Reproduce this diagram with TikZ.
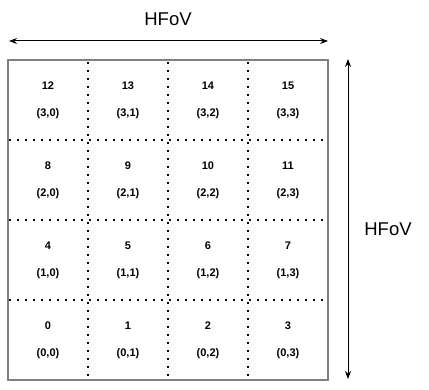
\documentclass[tikz,border=0pt]{standalone}
\usepackage{fontspec}
\setmainfont{Liberation Sans}
\usetikzlibrary{arrows.meta}
\definecolor{framegray}{RGB}{128,128,128}

\begin{document}
\begin{tikzpicture}[x=1pt,y=-1pt,
    idtext/.style={font=\fontsize{11}{12}\selectfont\bfseries, inner sep=0pt},
    fovtext/.style={font=\fontsize{18.5}{20}\selectfont, inner sep=0pt},
    gridline/.style={line width=1.8pt, dash pattern=on 1.8pt off 6.2pt},
    fovarrow/.style={{Stealth[length=8pt,width=6pt]}-{Stealth[length=8pt,width=6pt]}, line width=1pt}]
    \useasboundingbox (0,0) rectangle (429,390);

    % outer frame
    \node[draw=framegray, line width=1.6pt, minimum width=320pt, minimum height=320pt, inner sep=0pt] (fov) at (168,220) {};

    % dotted grid
    \foreach \gx in {88,168,248}
        \draw[gridline] (\gx,62) -- (\gx,379);
    \foreach \gy in {140,220,300}
        \draw[gridline] (9,\gy) -- (327,\gy);

    % cell labels
    \foreach \row in {0,...,3}
        \foreach \col in {0,...,3} {
            \pgfmathtruncatemacro{\idx}{4*\row+\col}
            \pgfmathsetmacro{\cx}{48+80*\col}
            \pgfmathsetmacro{\cy}{60+80*(3-\row)}
            \node[idtext] (id\idx) at (\cx,\cy+26) {\idx};
            \node[idtext] (rc\idx) at (\cx,\cy+54) {(\row,\col)};
        }

    % top arrow
    \coordinate (topl) at (9,41);
    \coordinate (topr) at (328,41);
    \draw[fovarrow] (topl) -- (topr);
    \node[fovtext] (toplabel) at (168,19) {HFoV};

    % side arrow
    \coordinate (sidet) at (348,59);
    \coordinate (sideb) at (348,379);
    \draw[fovarrow] (sidet) -- (sideb);
    \node[fovtext] (sidelabel) at (388,229) {HFoV};
\end{tikzpicture}
\end{document}
